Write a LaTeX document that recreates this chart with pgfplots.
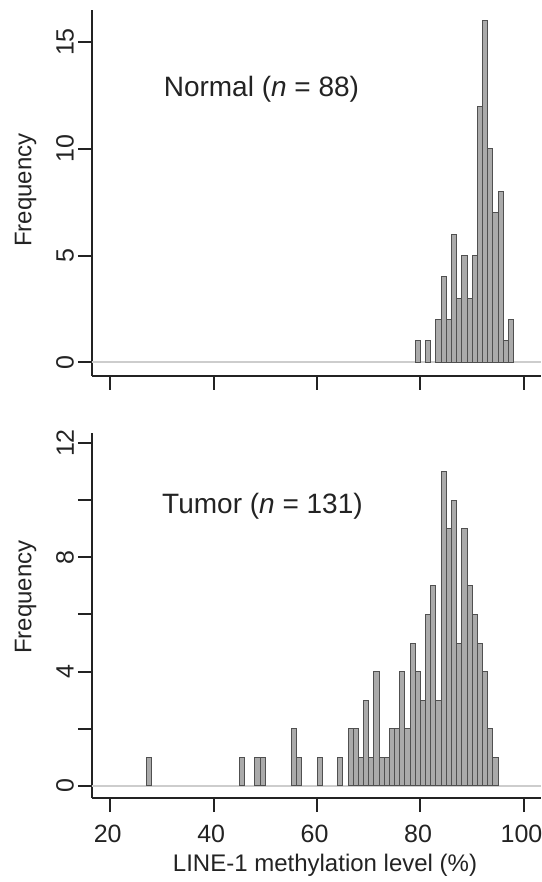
\documentclass[border=0pt]{standalone}
\usepackage{fontspec}
\setmainfont{Liberation Sans}
\usepackage{pgfplots}
\usepackage{pgfplotstable}
\pgfplotsset{compat=1.18}

\definecolor{barfill}{RGB}{170,170,170}
\definecolor{baredge}{RGB}{80,80,80}
\definecolor{axcol}{RGB}{35,35,35}
\definecolor{basecol}{RGB}{205,205,205}

\pgfplotstableread{
x y
79.5 1
81.5 1
83.5 2
84.5 4
85.5 2
86.5 6
87.5 3
88.5 5
89.5 3
90.5 5
91.5 12
92.5 16
93.5 10
94.5 7
95.5 8
96.5 1
97.5 2
}\normaldata

\pgfplotstableread{
x y
27.5 1
45.5 1
48.5 1
49.5 1
55.5 2
56.5 1
60.5 1
64.5 1
66.5 2
67.5 2
68.5 1
69.5 3
70.5 1
71.5 4
72.5 1
73.5 1
74.5 2
75.5 2
76.5 4
77.5 2
78.5 5
79.5 4
80.5 3
81.5 6
82.5 7
83.5 3
84.5 11
85.5 9
86.5 10
87.5 5
88.5 9
89.5 7
90.5 6
91.5 5
92.5 4
93.5 2
94.5 1
}\tumordata

\pgfplotsset{histstyle/.style={
  scale only axis, width=224.5pt,
  xmin=16.5, xmax=103.3,
  axis lines*=left,
  axis line style={line width=1pt, color=axcol},
  tick style={line width=1pt, color=axcol},
  major tick length=7pt,
  tick align=outside,
  xtick={20,40,60,80,100},
  /pgf/number format/assume math mode=true,
  ticklabel style={font=\fontsize{12.5}{15}\selectfont, text=axcol},
  xticklabel style={yshift=-3pt, xshift=-1.2pt},
  label style={font=\fontsize{12}{14}\selectfont, text=axcol},
  ylabel=Frequency,
  clip=false,
}}
\tikzset{ylab/.style={rotate=90, anchor=center, inner sep=0pt, font=\fontsize{12.5}{15}\selectfont, text=axcol}}

\begin{document}
\begin{tikzpicture}
\useasboundingbox (0,0) rectangle (270.5pt,441pt);

% Top: Normal
\begin{axis}[histstyle,
  at={(46pt,253pt)}, anchor=south west,
  height=183pt,
  ymin=-0.64, ymax=16.5,
  ytick={0,5,10,15},
  yticklabels={{},{},{},{}},
  xticklabels={{},{},{},{},{}},
  ylabel style={at={(axis description cs:-0.1477,0.508)}, anchor=center},
]
\addplot[basecol, line width=1pt, forget plot] coordinates {(16.5,0) (103.3,0)};
\addplot[ybar, bar width=1, bar shift=0pt, fill=barfill, draw=baredge, line width=0.5pt] table[x=x,y=y] {\normaldata};
\node[ylab] at (axis cs:11.29,0) {0};
\node[ylab] at (axis cs:11.29,5) {5};
\node[ylab] at (axis cs:11.29,10) {10};
\node[ylab] at (axis cs:11.29,15) {15};
\node[anchor=base west, inner sep=0pt, font=\fontsize{14}{17}\selectfont, text=axcol] at (axis cs:30.3,12.45) {Normal (\textit{n} = 88)};
\end{axis}

% Bottom: Tumor
\begin{axis}[histstyle,
  at={(46pt,42pt)}, anchor=south west,
  height=182.5pt,
  ymin=-0.42, ymax=12.35,
  ytick={0,2,4,6,8,10,12},
  yticklabels={{},{},{},{},{},{},{}},
  xlabel={LINE-1 methylation level (\%)},
  xlabel style={at={(axis description cs:0.519,-0.1836)}, anchor=center},
  ylabel style={at={(axis description cs:-0.1477,0.55)}, anchor=center},
]
\addplot[basecol, line width=1pt, forget plot] coordinates {(16.5,0) (103.3,0)};
\addplot[ybar, bar width=1, bar shift=0pt, fill=barfill, draw=baredge, line width=0.5pt] table[x=x,y=y] {\tumordata};
\node[ylab] at (axis cs:11.29,0) {0};
\node[ylab] at (axis cs:11.29,4) {4};
\node[ylab] at (axis cs:11.29,8) {8};
\node[ylab] at (axis cs:11.29,12) {12};
\node[anchor=base west, inner sep=0pt, font=\fontsize{14}{17}\selectfont, text=axcol] at (axis cs:30.0,9.55) {Tumor (\textit{n} = 131)};
\end{axis}
\end{tikzpicture}
\end{document}
